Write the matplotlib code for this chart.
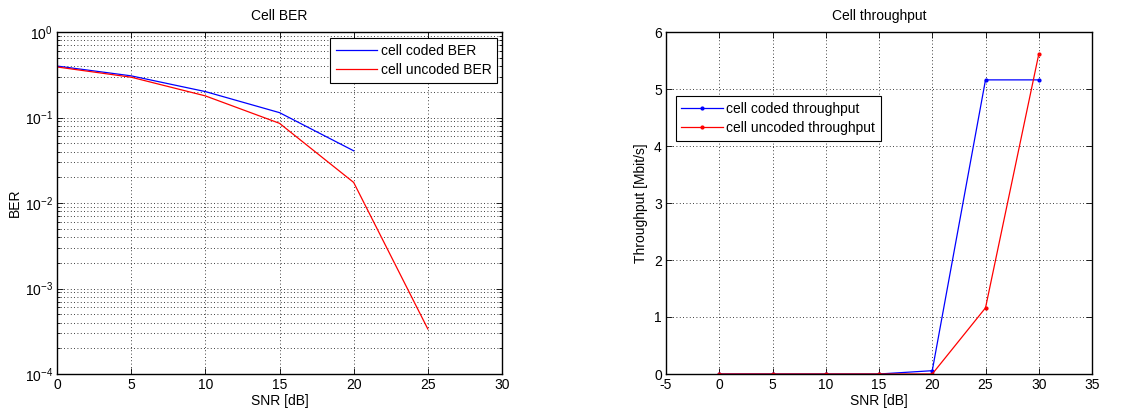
import matplotlib
matplotlib.use("Agg")
import matplotlib.pyplot as plt
from matplotlib.ticker import LogLocator, MultipleLocator

plt.rcParams['font.family'] = ['Liberation Sans', 'DejaVu Sans']
plt.rcParams['font.size'] = 10
plt.rcParams['axes.unicode_minus'] = False

# BER vs SNR
snr_ber = [0, 5, 10, 15, 20, 25]
ber_coded = [0.40, 0.307, 0.201, 0.114, 0.0408]
ber_uncoded = [0.39, 0.296, 0.179, 0.0855, 0.0174, 3.36e-4]

# Throughput vs SNR
snr_tp = [0, 5, 10, 15, 20, 25, 30]
tp_coded = [0, 0, 0, 0, 0.058, 5.16, 5.16]
tp_uncoded = [0, 0, 0, 0, 0, 1.16, 5.61]

fig = plt.figure(figsize=(11.4, 4.12), dpi=100)
ax1 = fig.add_axes([57/1140, 1 - 374/412, 445/1140, 342/412])
ax2 = fig.add_axes([666/1140, 1 - 374/412, 426/1140, 342/412])

grid_kw = dict(color='black', linestyle=(0, (1, 3)), linewidth=0.6)


def style(ax):
    ax.tick_params(which='both', direction='in', top=True, right=True,
                   length=4, width=0.6, labelsize=10, pad=3)
    ax.tick_params(which='minor', length=2)
    for s in ax.spines.values():
        s.set_linewidth(1.0)
        s.set_zorder(5)
    ax.set_axisbelow(True)


# Left: BER (log scale)
ax1.semilogy(snr_ber[:len(ber_coded)], ber_coded, color='#0000ff', lw=0.9,
             label='cell coded BER')
ax1.semilogy(snr_ber, ber_uncoded, color='#ff0000', lw=0.9,
             label='cell uncoded BER')
ax1.set_xlim(0, 30)
ax1.set_ylim(1e-4, 1)
ax1.xaxis.set_major_locator(MultipleLocator(5))
ax1.yaxis.set_major_locator(LogLocator(base=10, numticks=10))
ax1.yaxis.set_minor_locator(LogLocator(base=10, subs=range(2, 10), numticks=20))
ax1.grid(True, which='major', **grid_kw)
ax1.grid(True, which='minor', axis='y', **grid_kw)
ax1.set_xlabel('SNR [dB]', labelpad=1)
ax1.set_ylabel('BER', labelpad=2)
ax1.set_title('Cell BER', fontsize=10, pad=9)
style(ax1)
leg1 = ax1.legend(loc='upper right', bbox_to_anchor=(0.989, 0.982),
                  fancybox=False, framealpha=1, edgecolor='black',
                  fontsize=10, handlelength=3.0, borderaxespad=0,
                  handletextpad=0.25, labelspacing=0.4, borderpad=0.4)
leg1.get_frame().set_linewidth(0.8)

# Right: throughput
ax2.plot(snr_tp, tp_coded, color='#0000ff', lw=0.9, marker='.', ms=4,
         label='cell coded throughput')
ax2.plot(snr_tp, tp_uncoded, color='#ff0000', lw=0.9, marker='.', ms=4,
         label='cell uncoded throughput')
ax2.set_xlim(-5, 35)
ax2.set_ylim(0, 6)
ax2.xaxis.set_major_locator(MultipleLocator(5))
ax2.yaxis.set_major_locator(MultipleLocator(1))
ax2.grid(True, which='major', **grid_kw)
ax2.set_xlabel('SNR [dB]', labelpad=1)
ax2.set_ylabel('Throughput [Mbit/s]', labelpad=4)
ax2.set_title('Cell throughput', fontsize=10, pad=9)
style(ax2)
leg2 = ax2.legend(loc='upper left', bbox_to_anchor=(0.023, 0.813),
                  fancybox=False, framealpha=1, edgecolor='black',
                  fontsize=10, handlelength=3.0, borderaxespad=0,
                  handletextpad=0.25, labelspacing=0.4, borderpad=0.4)
leg2.get_frame().set_linewidth(0.8)

fig.savefig('out.png', dpi=100)
